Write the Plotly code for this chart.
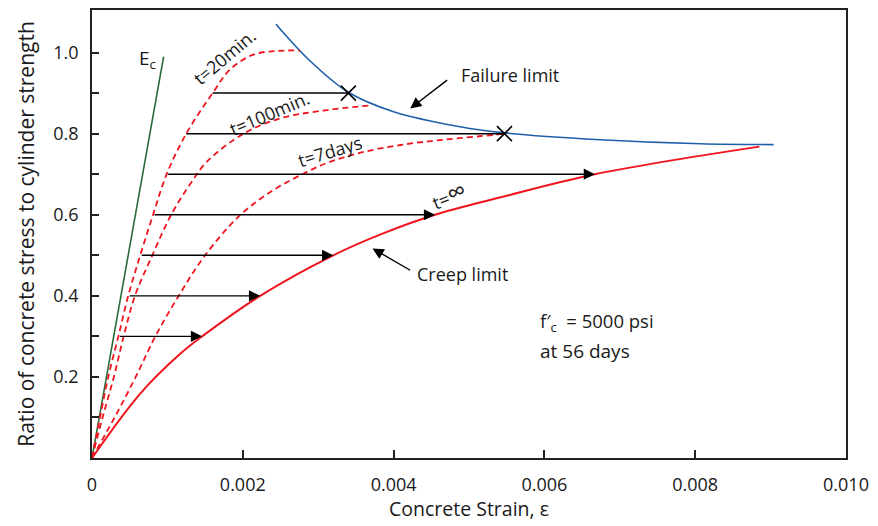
import plotly.graph_objects as go

# ---------------- data ----------------
ec_x = [0.0, 0.00095]
ec_y = [0.0, 0.99]

fail_x = [0.00244, 0.0029, 0.0034, 0.0040, 0.00488, 0.00547, 0.00674, 0.00807, 0.00904]
fail_y = [1.070, 0.978, 0.902, 0.854, 0.817, 0.802, 0.785, 0.775, 0.773]

creep_x = [0.0, 0.00064, 0.00117, 0.00146, 0.00223, 0.0032, 0.00382, 0.00455, 0.00542, 0.00667, 0.00885]
creep_y = [0.0, 0.159, 0.257, 0.300, 0.400, 0.500, 0.551, 0.600, 0.643, 0.700, 0.768]

t20_x = [0.0, 0.00011, 0.00022, 0.00035, 0.00048, 0.00064, 0.00081, 0.00099, 0.00125, 0.0016, 0.00183, 0.00214, 0.00245, 0.00276]
t20_y = [0.0, 0.104, 0.204, 0.300, 0.400, 0.500, 0.600, 0.700, 0.800, 0.900, 0.958, 0.995, 1.004, 1.005]

t100_x = [0.0, 0.00014, 0.00029, 0.00042, 0.00057, 0.0008, 0.00105, 0.0013, 0.00153, 0.00201, 0.0025, 0.00303, 0.0037]
t100_y = [0.0, 0.100, 0.200, 0.300, 0.400, 0.500, 0.600, 0.675, 0.732, 0.800, 0.838, 0.856, 0.870]

t7d_x = [0.0, 0.0003, 0.00058, 0.00084, 0.00115, 0.0015, 0.00197, 0.0024, 0.00279, 0.00312, 0.00356, 0.00409, 0.00466, 0.00533, 0.00547]
t7d_y = [0.0, 0.100, 0.200, 0.300, 0.400, 0.500, 0.600, 0.660, 0.700, 0.728, 0.753, 0.772, 0.785, 0.797, 0.800]

# creep arrows (start on t=20min curve, end on creep limit)
arrow_levels = [0.3, 0.4, 0.5, 0.6, 0.7]
arrow_start = [0.00035, 0.00048, 0.00064, 0.00081, 0.00099]
arrow_end = [0.00146, 0.00223, 0.0032, 0.00455, 0.00667]

# lines ending in failure (x marks)
fail_levels = [0.8, 0.9]
fail_start = [0.00125, 0.0016]
fail_end = [0.00547, 0.0034]

x_tickvals = [0, 0.002, 0.004, 0.006, 0.008, 0.010]
x_ticktext = ["0", "0.002", "0.004", "0.006", "0.008", "0.010"]
y_tickvals = [0.1, 0.2, 0.3, 0.4, 0.5, 0.6, 0.7, 0.8, 0.9, 1.0]
y_ticktext = ["", "0.2", "", "0.4", "", "0.6", "", "0.8", "", "1.0"]

# ---------------- figure ----------------
RED = "#f0141e"
BLUE = "#1f5faa"
GREEN = "#2a6b3a"
FONT = "Open Sans"
TXT = "#1a1a1a"

fig = go.Figure()

fig.add_trace(go.Scatter(x=ec_x, y=ec_y, mode="lines", line=dict(color=GREEN, width=1.6)))
fig.add_trace(go.Scatter(x=fail_x, y=fail_y, mode="lines", line=dict(color=BLUE, width=1.6, shape="spline")))
fig.add_trace(go.Scatter(x=creep_x, y=creep_y, mode="lines", line=dict(color=RED, width=2, shape="spline")))
for xs, ys in [(t20_x, t20_y), (t100_x, t100_y), (t7d_x, t7d_y)]:
    fig.add_trace(go.Scatter(x=xs, y=ys, mode="lines",
                             line=dict(color=RED, width=1.8, dash="6px,4px", shape="spline")))

for lv, xs, xe in zip(fail_levels, fail_start, fail_end):
    fig.add_trace(go.Scatter(x=[xs, xe], y=[lv, lv], mode="lines", line=dict(color="black", width=1.5)))
fig.add_trace(go.Scatter(x=fail_end, y=fail_levels, mode="markers",
                         marker=dict(symbol="x-thin", size=15, line=dict(color="black", width=1.6))))

annotations = []
for lv, xs, xe in zip(arrow_levels, arrow_start, arrow_end):
    annotations.append(dict(x=xe, y=lv, ax=xs, ay=lv, xref="x", yref="y", axref="x", ayref="y",
                            text="", showarrow=True, arrowhead=2, arrowsize=1.6, arrowwidth=1.4,
                            arrowcolor="black"))

# pointer arrows
annotations.append(dict(x=0.00422, y=0.862, ax=0.00473, ay=0.935, xref="x", yref="y", axref="x", ayref="y",
                        text="", showarrow=True, arrowhead=2, arrowsize=1.6, arrowwidth=1.4, arrowcolor="black"))
annotations.append(dict(x=0.00372, y=0.517, ax=0.00424, ay=0.461, xref="x", yref="y", axref="x", ayref="y",
                        text="", showarrow=True, arrowhead=2, arrowsize=1.6, arrowwidth=1.4, arrowcolor="black"))

def label(text, x, y, angle=0, size=17, xanchor="center"):
    annotations.append(dict(x=x, y=y, xref="x", yref="y", text=text, showarrow=False,
                            textangle=angle, xanchor=xanchor, yanchor="middle",
                            font=dict(family=FONT, size=size, color=TXT)))

label("E<sub>c</sub>", 0.00073, 0.984, size=19)
label("t=20min.", 0.00175, 0.990, angle=-40, size=18)
label("t=100min.", 0.00236, 0.852, angle=-23, size=18)
label("t=7days", 0.00316, 0.758, angle=-17, size=18)
label("t=<span style='font-size:26px'>\u221e</span>", 0.00473, 0.650, angle=-22, size=18)
label("Failure limit", 0.00555, 0.944, size=18)
label("Creep limit", 0.00492, 0.454, size=18)
label("f\u2032<sub>c</sub>  = 5000 psi", 0.00592, 0.335, size=18.5, xanchor="left")
label("at 56 days", 0.00592, 0.265, size=19, xanchor="left")

fig.update_layout(
    width=878, height=526,
    margin=dict(l=92, r=32, t=8, b=68),
    paper_bgcolor="white", plot_bgcolor="white",
    showlegend=False,
    annotations=annotations,
    font=dict(family=FONT, size=17, color=TXT),
)
fig.update_xaxes(range=[0, 0.010], tickvals=x_tickvals, ticktext=x_ticktext,
                 ticks="inside", ticklen=8, tickwidth=1.5, tickcolor="#222",
                 showline=True, linecolor="#222", linewidth=1.8, mirror=True,
                 showgrid=False, zeroline=False, ticklabelstandoff=9,
                 tickfont=dict(family=FONT, size=18, color=TXT),
                 title=dict(text="Concrete Strain, \u03b5", font=dict(family=FONT, size=19.5, color=TXT), standoff=7))
fig.update_yaxes(range=[0, 1.105], tickvals=y_tickvals, ticktext=y_ticktext,
                 ticks="inside", ticklen=7, tickwidth=1.5, tickcolor="#222",
                 showline=True, linecolor="#222", linewidth=1.8, mirror=True,
                 showgrid=False, zeroline=False, ticklabelstandoff=8,
                 tickfont=dict(family=FONT, size=18, color=TXT),
                 title=dict(text="Ratio of concrete stress to cylinder strength",
                            font=dict(family=FONT, size=21, color=TXT), standoff=13))

fig.write_html("out.html")
